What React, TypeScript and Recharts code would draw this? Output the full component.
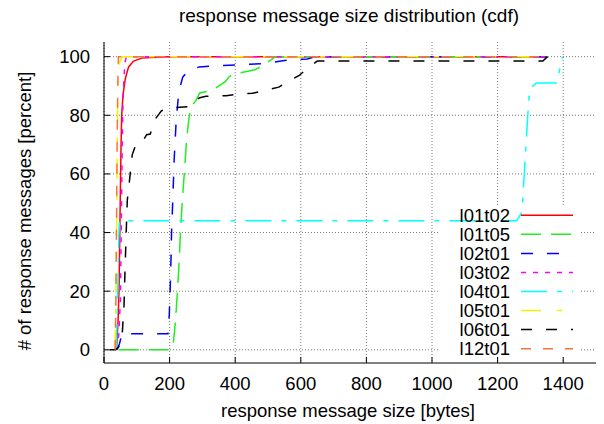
import React from "react";
import {
  LineChart,
  Line,
  XAxis,
  YAxis,
  CartesianGrid,
  ReferenceArea,
} from "recharts";

// bytes (x) and percent (y) for each cdf series
const l01t02X = [38, 43, 46, 48, 50, 52, 54, 58, 65, 75, 90, 115, 160, 200, 1350];
const l01t02Y = [0, 10, 22, 38, 55, 70, 80, 87, 92.5, 96.5, 98.5, 99.5, 99.8, 100, 100];

const l01t05X = [45, 205, 212, 218, 224, 229, 234, 240, 246, 252, 259, 266, 280, 292, 330, 370, 380, 392, 460, 485, 510, 523, 1355];
const l01t05Y = [0, 0, 3, 10, 20, 30, 42, 53, 62, 72, 79, 83, 85, 87.6, 88.5, 91.5, 93, 94, 95.5, 97, 99, 100, 100];

const l02t01X = [40, 47, 55, 195, 199, 203, 206, 210, 214, 220, 228, 240, 255, 290, 400, 490, 540, 570, 620, 645, 1355];
const l02t01Y = [0, 2, 5.5, 5.5, 12, 25, 40, 52, 65, 78, 88, 93, 95, 96.5, 97.2, 97.6, 98.5, 99, 99.2, 100, 100];

const l03t02X = [36, 45, 50, 52, 54, 56, 58, 61, 64, 68, 1350];
const l03t02Y = [0, 5, 17, 35, 55, 72, 85, 93, 98, 100, 100];

const l04t01X = [37, 40, 43, 45, 47, 1258, 1272, 1276, 1284, 1292, 1298, 1318, 1380, 1388, 1398];
const l04t01Y = [0, 10, 25, 38, 44, 44, 46.5, 50, 65, 80, 89, 91, 91, 95, 100];

const l05t01X = [33, 36, 38, 40, 42, 44, 55, 1350];
const l05t01Y = [0, 12, 35, 65, 88, 97, 100, 100];

const l06t01X = [18, 35, 45, 55, 61, 63, 66, 68, 71, 78, 86, 97, 115, 130, 141, 155, 175, 195, 262, 272, 292, 311, 372, 422, 453, 478, 533, 553, 574, 594, 620, 650, 1338, 1352];
const l06t01Y = [0, 0, 1, 4.5, 15, 23, 34, 41, 51, 58, 66.5, 70, 70.5, 73.4, 73.6, 78.5, 81.5, 82.5, 83, 84.7, 86, 86.5, 86.7, 87.4, 87.5, 88.2, 89.6, 91, 92.3, 93.5, 96, 98.5, 98.5, 100];

const l12t01X = [34, 36, 38, 40, 42, 44, 1350];
const l12t01Y = [0, 15, 40, 70, 90, 100, 100];

const xTicks = [0, 200, 400, 600, 800, 1000, 1200, 1400];
const yTicks = [0, 20, 40, 60, 80, 100];

const zip = (xs: number[], ys: number[]) => xs.map((x, i) => ({ x, y: ys[i] }));

const series = [
  { name: "l01t02", data: zip(l01t02X, l01t02Y), color: "#ff0000", dash: undefined },
  { name: "l01t05", data: zip(l01t05X, l01t05Y), color: "#22ee22", dash: "20 10" },
  { name: "l02t01", data: zip(l02t01X, l02t01Y), color: "#0000ff", dash: "12 14" },
  { name: "l03t02", data: zip(l03t02X, l03t02Y), color: "#ff00ff", dash: "5 7" },
  { name: "l04t01", data: zip(l04t01X, l04t01Y), color: "#00ffff", dash: "26 10 5 10" },
  { name: "l05t01", data: zip(l05t01X, l05t01Y), color: "#f2f200", dash: "20 16 5 16" },
  { name: "l06t01", data: zip(l06t01X, l06t01Y), color: "#000000", dash: "11 14" },
  { name: "l12t01", data: zip(l12t01X, l12t01Y), color: "#f4743b", dash: "10 12" },
];

const font = "'Liberation Sans', Arial, sans-serif";
const tickStyle = { fill: "#000", fontSize: 18.5, fontFamily: font };

export default function App() {
  return (
    <div style={{ position: "absolute", left: 0, top: 0, width: 604, height: 424, background: "#fff" }}>
      <LineChart width={604} height={424} margin={{ top: 42, right: 8, bottom: 0, left: 0 }}>
        <CartesianGrid stroke="#555" strokeDasharray="1 2" strokeWidth={0.8} horizontalValues={yTicks} verticalValues={xTicks} />
        <ReferenceArea x1={1024} x2={1451} y1={-2.5} y2={49} fill="#fff" fillOpacity={1} stroke="none" />
        <XAxis
          dataKey="x"
          type="number"
          domain={[0, 1500]}
          ticks={xTicks}
          allowDataOverflow
          height={61}
          tickSize={-6}
          tickMargin={20}
          axisLine={{ stroke: "#000" }}
          tickLine={{ stroke: "#000" }}
          tick={tickStyle}
        />
        <XAxis
          xAxisId="top"
          orientation="top"
          dataKey="x"
          type="number"
          domain={[0, 1500]}
          ticks={xTicks}
          allowDataOverflow
          height={0}
          tickSize={-6}
          tick={false}
          axisLine={{ stroke: "#000" }}
          tickLine={{ stroke: "#000" }}
        />
        <YAxis
          type="number"
          domain={[-4.5, 105]}
          ticks={yTicks}
          allowDataOverflow
          width={104}
          tickSize={-6}
          tickMargin={20}
          axisLine={{ stroke: "#000" }}
          tickLine={{ stroke: "#000" }}
          tick={tickStyle}
        />
        <YAxis
          yAxisId="right"
          orientation="right"
          type="number"
          domain={[-4.5, 105]}
          ticks={yTicks}
          allowDataOverflow
          width={0}
          tickSize={-6}
          tick={false}
          axisLine={{ stroke: "#000" }}
          tickLine={{ stroke: "#000" }}
        />
        {series.map((s) => (
          <Line
            key={s.name}
            data={s.data}
            dataKey="y"
            name={s.name}
            type="linear"
            stroke={s.color}
            strokeWidth={1.5}
            strokeDasharray={s.dash}
            dot={false}
            activeDot={false}
            isAnimationActive={false}
          />
        ))}
      </LineChart>
      <svg
        width={604}
        height={424}
        style={{ position: "absolute", left: 0, top: 0, pointerEvents: "none" }}
        fontFamily={font}
      >
        <text x={349} y={22} textAnchor="middle" fontSize={19} fill="#000">
          response message size distribution (cdf)
        </text>
        <text x={348} y={417} textAnchor="middle" fontSize={18.5} fill="#000">
          response message size [bytes]
        </text>
        <text
          x={0}
          y={0}
          transform="translate(31,211) rotate(-90)"
          textAnchor="middle"
          fontSize={18.5}
          fill="#000"
        >
          # of response messages [percent]
        </text>
        {series.map((s, i) => {
          const y = 215.3 + i * 19.05;
          return (
            <g key={s.name}>
              <text x={510} y={y} dy="0.35em" textAnchor="end" fontSize={18.5} fill="#000">
                {s.name}
              </text>
              <line x1={521} x2={573} y1={y} y2={y} stroke={s.color} strokeWidth={1.5} strokeDasharray={s.dash} />
            </g>
          );
        })}
      </svg>
    </div>
  );
}
